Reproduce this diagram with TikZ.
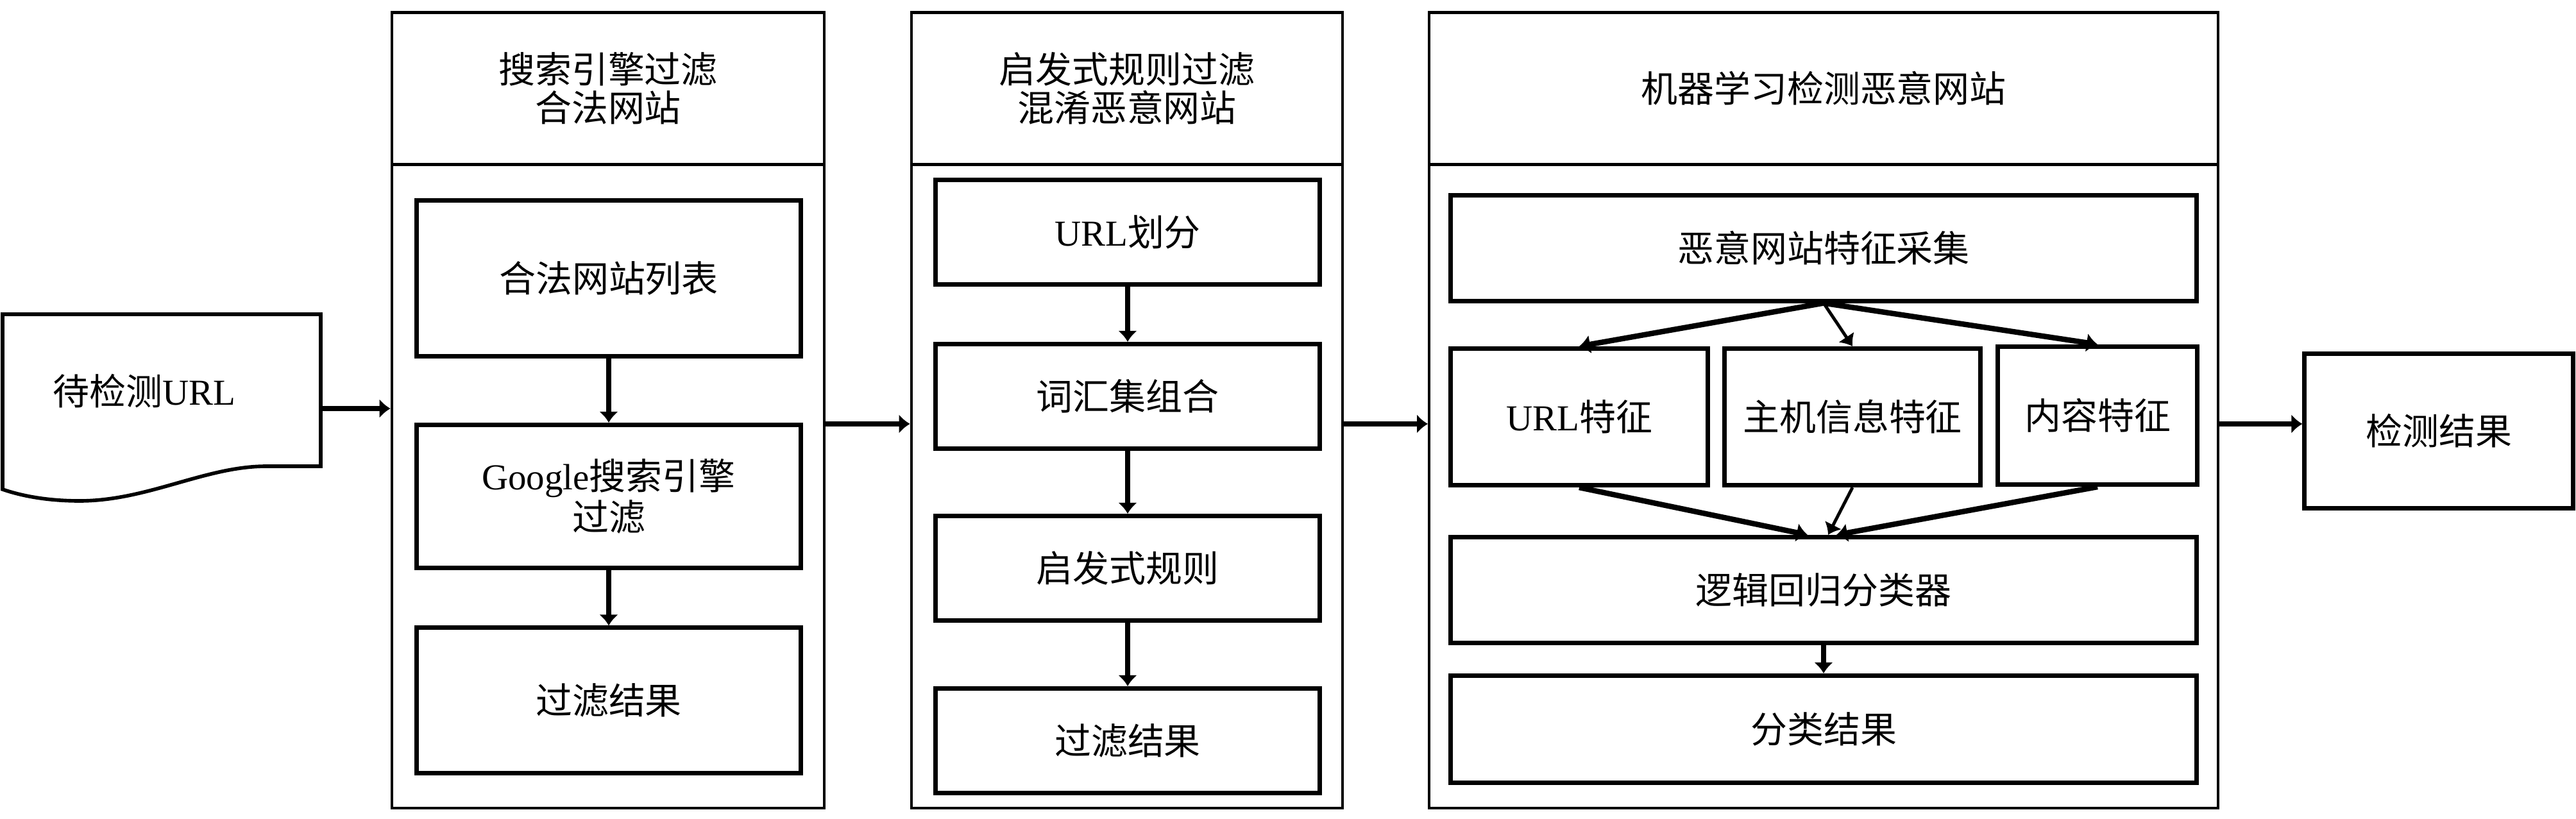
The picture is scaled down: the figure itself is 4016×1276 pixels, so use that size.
\documentclass[tikz,border=0pt]{standalone}
\usepackage{fontspec}
\setmainfont{Liberation Serif}
\newfontfamily\cjk{Noto Sans CJK SC}
\newcommand{\zhtext}[1]{{\cjk #1}}
\usetikzlibrary{arrows.meta}

\begin{document}
\begin{tikzpicture}[x=0.01cm, y=-0.01cm,
  every node/.style = {draw=none, align=center, inner sep=0pt,
    font=\fontsize{16.2}{17}\selectfont},
  colbox/.style = {draw, line width=1.2pt},
  stepbox/.style = {draw, line width=2pt},
  arr/.style = {line width=2.1pt, -{Latex[length=0.17cm,width=0.3cm]}}]
  \useasboundingbox (0,0) rectangle (4016,1276);

  % input document
  \draw[line width=1.6pt] (4,490) -- (500,490) -- (500,727) -- (415,727)
    .. controls (320,727) and (230,781) .. (124,781)
    .. controls (70,781) and (30,772) .. (4,763) -- cycle;
  \node (url) at (225,610) {\zhtext{待检测}URL};
  \coordinate (urlout) at (500,637);

  % column 1
  \node[colbox, minimum width=6.74cm, minimum height=2.37cm] (head1) at (948,138)
    {\zhtext{搜索引擎过滤}\\\zhtext{合法网站}};
  \node[colbox, minimum width=6.74cm, minimum height=10.04cm] (body1) at (948,758) {};
  \node[stepbox, minimum width=5.98cm, minimum height=2.42cm] (list) at (949,434)
    {\zhtext{合法网站列表}};
  \node[stepbox, minimum width=5.98cm, minimum height=2.23cm] (google) at (949,774)
    {Google\zhtext{搜索引擎}\\\zhtext{过滤}};
  \node[stepbox, minimum width=5.98cm, minimum height=2.26cm] (res1) at (949,1092)
    {\zhtext{过滤结果}};

  % column 2
  \node[colbox, minimum width=6.72cm, minimum height=2.37cm] (head2) at (1757,138)
    {\zhtext{启发式规则过滤}\\\zhtext{混淆恶意网站}};
  \node[colbox, minimum width=6.72cm, minimum height=10.04cm] (body2) at (1757,758) {};
  \node[stepbox, minimum width=5.99cm, minimum height=1.63cm] (split) at (1758,362)
    {URL\zhtext{划分}};
  \node[stepbox, minimum width=5.99cm, minimum height=1.63cm] (vocab) at (1758,618)
    {\zhtext{词汇集组合}};
  \node[stepbox, minimum width=5.99cm, minimum height=1.63cm] (heur) at (1758,886)
    {\zhtext{启发式规则}};
  \node[stepbox, minimum width=5.99cm, minimum height=1.63cm] (res2) at (1758,1155)
    {\zhtext{过滤结果}};

  % column 3
  \node[colbox, minimum width=12.29cm, minimum height=2.37cm] (head3) at (2843,138)
    {\zhtext{机器学习检测恶意网站}};
  \node[colbox, minimum width=12.29cm, minimum height=10.04cm] (body3) at (2843,758) {};
  \node[stepbox, minimum width=11.63cm, minimum height=1.64cm] (collect) at (2843,387)
    {\zhtext{恶意网站特征采集}};
  \node[stepbox, minimum width=4cm, minimum height=2.13cm] (urlf) at (2462,650)
    {URL\zhtext{特征}};
  \node[stepbox, minimum width=3.99cm, minimum height=2.13cm] (hostf) at (2888,650)
    {\zhtext{主机信息特征}};
  \node[stepbox, minimum width=3.11cm, minimum height=2.15cm] (contf) at (3270,648)
    {\zhtext{内容特征}};
  \node[stepbox, minimum width=11.63cm, minimum height=1.65cm] (logit) at (2843,920)
    {\zhtext{逻辑回归分类器}};
  \node[stepbox, minimum width=11.63cm, minimum height=1.67cm] (cls) at (2843,1137)
    {\zhtext{分类结果}};

  % output
  \node[stepbox, minimum width=4.18cm, minimum height=2.4cm] (detect) at (3802,672)
    {\zhtext{检测结果}};

  \draw[arr] (urlout) -- (urlout -| body1.west);
  \draw[arr] ([yshift=0.97cm]body1.east) -- ([yshift=0.97cm]body1.east -| body2.west);
  \draw[arr] ([yshift=0.97cm]body2.east) -- ([yshift=0.97cm]body2.east -| body3.west);
  \draw[arr] ([yshift=0.97cm]body3.east) -- ([yshift=0.97cm]body3.east -| detect.west);

  \foreach \a/\b in {list/google, google/res1, split/vocab, vocab/heur, heur/res2, logit/cls}
    \draw[arr] (\a.south) -- (\b.north);

  \draw[arr, line width=2.4pt] (collect.south) -- (urlf.north);
  \draw[arr, line width=1.4pt] (collect.south) -- (hostf.north);
  \draw[arr, line width=2.4pt] (collect.south) -- (contf.north);
  \draw[arr, line width=2.4pt] (urlf.south) -- ([xshift=-0.25cm]logit.north);
  \draw[arr, line width=1.4pt] (hostf.south) -- ([xshift=0.07cm]logit.north);
  \draw[arr, line width=2.4pt] (contf.south) -- ([xshift=0.2cm]logit.north);
\end{tikzpicture}
\end{document}
